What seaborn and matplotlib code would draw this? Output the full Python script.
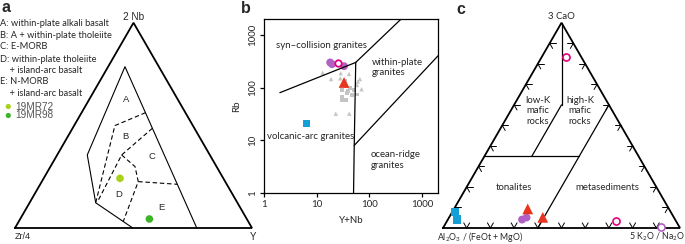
import numpy as np
import pandas as pd
import matplotlib
matplotlib.use("Agg")
import matplotlib.pyplot as plt
import matplotlib.ticker as mticker
import seaborn as sns

sns.set_style("white")
plt.rcParams['font.family'] = ['Lato', 'DejaVu Sans']
plt.rcParams['mathtext.default'] = 'regular'

W, H = 685, 244

# colours
PURPLE = '#b160c4'
MAGENTA = '#e5007d'
RED = '#e8351f'
BLUE = '#14a0d6'
GRAY = '#c4c4c4'
LIME = '#a9d11c'
GREEN = '#3bb526'

# ---------------- panel a: 2Nb - Zr/4 - Y (fractions top, left, right)
a_names = ['19MR72', '19MR98']
a_nb = [0.242, 0.044]
a_zr = [0.436, 0.411]
a_y = [0.322, 0.545]
a_colors = [LIME, GREEN]

a_outer = [(0.0, 0.233, 0.767), (0.786, 0.143, 0.071), (0.356, 0.517, 0.127),
           (0.123, 0.598, 0.279), (0.0, 0.503, 0.497)]
a_ab = [(0.562, 0.168, 0.270), (0.499, 0.329, 0.172), (0.123, 0.598, 0.279)]
a_bc = [(0.486, 0.177, 0.337), (0.356, 0.372, 0.272), (0.132, 0.584, 0.284)]
a_d = [(0.356, 0.372, 0.272), (0.299, 0.344, 0.357), (0.226, 0.367, 0.407),
       (0.031, 0.528, 0.441)]
a_ce = [(0.226, 0.367, 0.407), (0.213, 0.209, 0.578)]
a_field_names = ['A', 'B', 'C', 'D', 'E']
a_field_pos = [(0.624, 0.217, 0.159), (0.445, 0.310, 0.245), (0.347, 0.247, 0.406),
               (0.161, 0.481, 0.358), (0.101, 0.331, 0.568)]
a_key = ['A: within-plate alkali basalt', 'B: A + within-plate tholeiite', 'C: E-MORB',
         'D: within-plate tholeiite', '    + island-arc basalt', 'E: N-MORB',
         '    + island-arc basalt']

# ---------------- panel b: Rb vs Y+Nb
b_tri_x = [13, 18.7, 28.5, 41, 66, 71, 23, 41.5, 58, 28, 60]
b_tri_y = [191, 145, 187, 181, 145, 93, 32, 32, 112, 150, 130]
b_sq_x = [30.6, 36, 43, 29.8, 37.6, 46, 57, 30.6, 51, 36, 34, 40]
b_sq_y = [90, 107, 98, 67, 79, 72, 74, 58, 90, 58, 133, 85]
b_purple_x = [18, 19.5, 33]
b_purple_y = [300, 278, 255]
b_open_x = [25]
b_open_y = [295]
b_red_x = [33]
b_red_y = [125]
b_blue_x = [6.4]
b_blue_y = [21]

b_colg_vag = ([2, 55], [80, 300])
b_colg_wpg = ([55, 400], [300, 2000])
b_vag_wpg = ([55, 51.5, 50], [300, 8, 1])
b_wpg_org = ([51.5, 2000], [8, 400])

# ---------------- panel c: 3CaO - Al2O3/(FeOt+MgO) - 5K2O/Na2O
c_lines = [
    [(1.0, 0.0, 0.0), (0.6, 0.2, 0.2)],
    [(0.6, 0.2, 0.2), (0.35, 0.45, 0.2)],
    [(0.35, 0.65, 0.0), (0.35, 0.25, 0.4)],
    [(0.6, 0.0, 0.4), (0.0, 0.6, 0.4)],
]
c_purple = [(0.041, 0.646, 0.313), (0.051, 0.622, 0.327)]
c_red = [(0.093, 0.596, 0.311), (0.052, 0.553, 0.395)]
c_blue = [(0.078, 0.910, 0.012), (0.041, 0.920, 0.039)]
c_magenta_open = [(0.832, 0.065, 0.103), (0.034, 0.253, 0.713)]
c_purple_open = [(0.006, 0.079, 0.915)]


def tern(pts):
    p = np.asarray(pts, float)
    s = p.sum(axis=1)
    return (p[:, 2] + p[:, 0] / 2) / s, p[:, 0] * np.sqrt(3) / 2 / s


fig = plt.figure(figsize=(W / 100, H / 100), dpi=100)

# triangle axes: 237 px per unit
ax_a = fig.add_axes([0, 0, 265 / W, 1])
ax_c = fig.add_axes([430 / W, 0, 255 / W, 1])
for ax, left in [(ax_a, 15), (ax_c, 13)]:
    w = ax.get_position().width * W
    ax.set_xlim(-left / 237, (w - left) / 237)
    ax.set_ylim(-16 / 237, (H - 16) / 237)
    ax.axis('off')
    tx, ty = tern([(0, 1, 0), (0, 0, 1), (1, 0, 0), (0, 1, 0)])
    ax.plot(tx, ty, color='black', lw=1.3, solid_joinstyle='miter', zorder=2)

# ---- panel a
x, y = tern(a_outer)
ax_a.plot(x, y, color='black', lw=0.8)
for seg in [a_ab, a_bc, a_d, a_ce]:
    x, y = tern(seg)
    ax_a.plot(x, y, color='black', lw=0.8, ls=(0, (4, 2.5)))
for name, pos in zip(a_field_names, a_field_pos):
    x, y = tern([pos])
    ax_a.text(x[0], y[0], name, ha='center', va='center', fontsize=6.8,
              family='Liberation Sans')
df_a = pd.DataFrame({'nb': a_nb, 'zr': a_zr, 'y': a_y, 'sample': a_names})
df_a['x'], df_a['yy'] = tern(df_a[['nb', 'zr', 'y']].values)
sns.scatterplot(data=df_a, x='x', y='yy', hue='sample', palette=a_colors, s=30,
                edgecolor='none', legend=False, ax=ax_a, zorder=3)
ax_a.text(0.5, 0.889, '2 Nb', ha='center', va='center', fontsize=7.2, family='Liberation Sans')
ax_a.text(0.0, -0.037, 'Zr/4', ha='left', va='center', fontsize=6.5, family='Liberation Sans')
ax_a.text(1.004, -0.037, 'Y', ha='center', va='center', fontsize=7, family='Liberation Sans')

key_y = [24, 35, 46.5, 59.5, 71, 82, 94]
for txt, ky in zip(a_key, key_y):
    fig.text(0.5 / W, 1 - ky / H, txt, ha='left', va='center', fontsize=6.7)
for name, col, ky in zip(a_names, a_colors, [106.5, 115.5]):
    fig.text(15 / W, 1 - ky / H, name, ha='left', va='center', fontsize=7.2,
             family='Liberation Sans', color='#555555')
    ax_a.scatter(8.3 / 265, 1 - ky / H, s=14, color=col, transform=ax_a.transAxes,
                 edgecolor='none')

# ---- panel b
ax_b = fig.add_axes([264 / W, 1 - 193 / H, 174 / W, 174 / H])
ax_b.set_xscale('log')
ax_b.set_yscale('log')
ax_b.set_xlim(1, 2000)
ax_b.set_ylim(1, 2000)
for xs, ys in [b_colg_vag, b_colg_wpg, b_vag_wpg, b_wpg_org]:
    ax_b.plot(xs, ys, color='black', lw=0.9)
sns.scatterplot(x=b_tri_x, y=b_tri_y, marker='^', s=10, color=GRAY, edgecolor='none', ax=ax_b)
sns.scatterplot(x=b_sq_x, y=b_sq_y, marker='s', s=8, color=GRAY, edgecolor='none', ax=ax_b)
sns.scatterplot(x=b_purple_x, y=b_purple_y, marker='o', s=32, color=PURPLE, edgecolor='none', ax=ax_b)
ax_b.scatter(b_open_x, b_open_y, marker='o', s=22, facecolors='white', edgecolors=MAGENTA, linewidths=1.3, zorder=3)
sns.scatterplot(x=b_red_x, y=b_red_y, marker='^', s=60, color=RED, edgecolor='none', ax=ax_b)
sns.scatterplot(x=b_blue_x, y=b_blue_y, marker='s', s=28, color=BLUE, edgecolor='none', ax=ax_b)

ticks = [1, 10, 100, 1000]
ax_b.xaxis.set_major_locator(mticker.FixedLocator(ticks))
ax_b.yaxis.set_major_locator(mticker.FixedLocator(ticks))
ax_b.xaxis.set_minor_locator(mticker.NullLocator())
ax_b.yaxis.set_minor_locator(mticker.NullLocator())
ax_b.set_xticklabels([str(t) for t in ticks])
ax_b.set_yticklabels([str(t) for t in ticks], rotation=90, va='center')
ax_b.tick_params(direction='out', length=3, width=0.9, labelsize=7, pad=2,
                 bottom=True, left=True, color='black')
for sp in ax_b.spines.values():
    sp.set_color('black')
    sp.set_linewidth(0.9)
ax_b.set_xlabel('Y+Nb', fontsize=7, labelpad=5)
ax_b.set_ylabel('Rb', fontsize=7, labelpad=5)
ax_b.text(0.328, 0.847, 'syn\u2013collision granites', transform=ax_b.transAxes,
          ha='center', va='center', fontsize=6.9)
ax_b.text(0.618, 0.723, 'within-plate\ngranites', transform=ax_b.transAxes,
          ha='left', va='center', fontsize=6.9, linespacing=1.15)
ax_b.text(0.019, 0.324, 'volcanic-arc granites', transform=ax_b.transAxes,
          ha='left', va='center', fontsize=6.9)
ax_b.text(0.611, 0.19, 'ocean-ridge\ngranites', transform=ax_b.transAxes,
          ha='left', va='center', fontsize=6.9, linespacing=1.2)

# ---- panel c
for seg in c_lines:
    x, y = tern(seg)
    ax_c.plot(x, y, color='black', lw=0.9)

# chevron ticks every 10 % along the edges
L = 0.025
frac = np.arange(1, 10) / 10
edges = [
    (np.column_stack([frac, np.zeros(9)]), (60, 120)),
    (np.column_stack([frac * 0.5, frac * np.sqrt(3) / 2]), (0, -60)),
    (np.column_stack([1 - frac * 0.5, frac * np.sqrt(3) / 2]), (180, 240)),
]
for pts, angs in edges:
    for px, py in pts:
        for ang in angs:
            r = np.deg2rad(ang)
            ax_c.plot([px, px + L * np.cos(r)], [py, py + L * np.sin(r)],
                      color='black', lw=0.7)

for pts, mk, col, s in [(c_blue, 's', BLUE, 36), (c_purple, 'o', PURPLE, 32),
                         (c_red, '^', RED, 60)]:
    x, y = tern(pts)
    sns.scatterplot(x=x, y=y, marker=mk, s=s, color=col, edgecolor='none', ax=ax_c, zorder=3)
for pts, col in [(c_magenta_open, MAGENTA), (c_purple_open, PURPLE)]:
    x, y = tern(pts)
    ax_c.scatter(x, y, marker='o', s=26, facecolors='white', edgecolors=col,
                 linewidths=1.2, zorder=3)

ax_c.text(0.3996, 0.494, 'low-K\nmafic\nrocks', ha='center', va='center', fontsize=6.9, linespacing=1.23)
ax_c.text(0.578, 0.494, 'high-K\nmafic\nrocks', ha='center', va='center', fontsize=6.9, linespacing=1.23)
ax_c.text(0.301, 0.170, 'tonalites', ha='center', va='center', fontsize=6.9)
ax_c.text(0.695, 0.170, 'metasediments', ha='center', va='center', fontsize=6.9)
ax_c.text(0.498, 0.891, '3 CaO', ha='center', va='center', fontsize=6.9)
ax_c.text(-0.027, -0.037, 'Al$_2$O$_3$ / (FeOt + MgO)', ha='left', va='center', fontsize=6.3)
ax_c.text(1.02, -0.037, '5 K$_2$O / Na$_2$O', ha='right', va='center', fontsize=6.3)

# panel letters
for lab, px, py in [('a', 2, 8), ('b', 241, 8.5), ('c', 456, 9)]:
    fig.text(px / W, 1 - py / H, lab, ha='left', va='center', fontsize=11.5,
             fontweight='bold', family='Liberation Sans')

fig.savefig('out.png', dpi=100)
